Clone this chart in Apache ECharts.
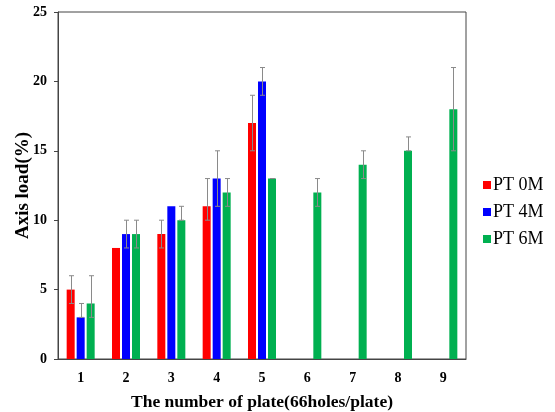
<!DOCTYPE html>
<html>
<head>
<meta charset="utf-8">
<script src="https://cdn.jsdelivr.net/npm/echarts@6/dist/echarts.min.js"></script>
<style>
  html, body { margin: 0; padding: 0; background: #fff; }
  #main { width: 555px; height: 412px; }
</style>
</head>
<body>
<div id="main"></div>
<script type="text/javascript">
    // plate numbers
    var categories = ['1', '2', '3', '4', '5', '6', '7', '8', '9'];

    // axis load (%) per series
    var pt0 = [5, 8, 9, 11, 17, null, null, null, null];
    var pt4 = [3, 9, 11, 13, 20, null, null, null, null];
    var pt6 = [4, 9, 10, 12, 13, 12, 14, 15, 18];

    // error bar ends (low / high), null = no bar
    var pt0Low  = [4, null, 8, 10, 15, null, null, null, null];
    var pt0High = [6, null, 10, 13, 19, null, null, null, null];
    var pt4Low  = [3, 8, null, 11, 19, null, null, null, null];
    var pt4High = [4, 10, null, 15, 21, null, null, null, null];
    var pt6Low  = [3, 8, 10, 11, 13, 11, 13, 15, 15];
    var pt6High = [6, 10, 11, 13, 13, 13, 15, 16, 21];

    var yTicks = [0, 5, 10, 15, 20, 25];

    var serif = 'Liberation Serif';

    function errData(low, high) {
        var out = [];
        for (var i = 0; i < low.length; i++) {
            if (low[i] != null && high[i] != null) {
                out.push([i, low[i], high[i]]);
            }
        }
        return out;
    }

    function errSeries(name, low, high, offset) {
        return {
            type: 'custom',
            name: name + ' err',
            z: 10,
            silent: true,
            renderItem: function (params, api) {
                var top = api.coord([api.value(0), api.value(2)]);
                var bot = api.coord([api.value(0), api.value(1)]);
                var x = Math.round(top[0] + offset) + 0.5;
                var style = { stroke: '#8a8a8a', lineWidth: 1 };
                return {
                    type: 'group',
                    children: [
                        { type: 'line', shape: { x1: x, y1: top[1], x2: x, y2: bot[1] }, style: style },
                        { type: 'line', shape: { x1: x - 2.5, y1: top[1], x2: x + 2.5, y2: top[1] }, style: style },
                        { type: 'line', shape: { x1: x - 2.5, y1: bot[1], x2: x + 2.5, y2: bot[1] }, style: style }
                    ]
                };
            },
            data: errData(low, high)
        };
    }

    var myChart = echarts.init(document.getElementById('main'));

    var option = {
        animation: false,
        backgroundColor: '#fff',
        grid: {
            left: 58,
            right: 89,
            top: 12,
            bottom: 53,
            outerBoundsMode: 'none',
            show: true,
            borderColor: '#444',
            borderWidth: 1
        },
        legend: {
            orient: 'vertical',
            left: 478,
            top: 171,
            itemWidth: 8,
            itemHeight: 8,
            itemGap: 9,
            icon: 'rect',
            data: ['PT 0M', 'PT 4M', 'PT 6M'],
            textStyle: { fontFamily: serif, fontSize: 18, color: '#000', padding: [0, 0, 0, -3] }
        },
        xAxis: {
            type: 'category',
            data: categories,
            name: 'The number of plate(66holes/plate)',
            nameLocation: 'middle',
            nameGap: 34,
            nameMoveOverlap: false,
            nameTextStyle: { fontFamily: serif, fontSize: 17.5, fontWeight: 'bold', color: '#000' },
            axisLine: { lineStyle: { color: '#444' } },
            axisTick: { alignWithLabel: true, length: 4, lineStyle: { color: '#444' } },
            axisLabel: { fontFamily: serif, fontSize: 14, fontWeight: 'bold', color: '#000', margin: 12 }
        },
        yAxis: {
            type: 'value',
            min: yTicks[0],
            max: yTicks[yTicks.length - 1],
            interval: 5,
            name: 'Axis load(%)',
            nameLocation: 'middle',
            nameGap: 25,
            nameMoveOverlap: false,
            nameTextStyle: { fontFamily: serif, fontSize: 19, fontWeight: 'bold', color: '#000' },
            axisLine: { show: true, lineStyle: { color: '#444' } },
            axisTick: { show: true, length: 4, lineStyle: { color: '#444' } },
            splitLine: { show: false },
            axisLabel: { fontFamily: serif, fontSize: 14, fontWeight: 'bold', color: '#000', margin: 11 }
        },
        series: [
            { name: 'PT 0M', type: 'bar', data: pt0, barWidth: 8, barGap: '25%', itemStyle: { color: '#ff0000' } },
            { name: 'PT 4M', type: 'bar', data: pt4, barWidth: 8, barGap: '25%', itemStyle: { color: '#0000ff' } },
            { name: 'PT 6M', type: 'bar', data: pt6, barWidth: 8, barGap: '25%', itemStyle: { color: '#00b050' } },
            errSeries('PT 0M', pt0Low, pt0High, -10),
            errSeries('PT 4M', pt4Low, pt4High, 0),
            errSeries('PT 6M', pt6Low, pt6High, 10)
        ]
    };
    myChart.setOption(option);
</script>
</body>
</html>
